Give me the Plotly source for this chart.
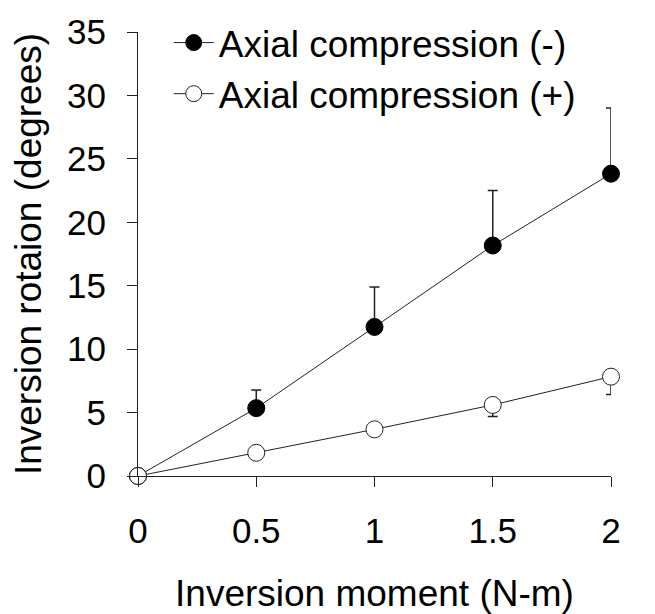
import plotly.graph_objects as go

x_vals = [0, 0.5, 1, 1.5, 2]
neg_mean = [0, 5.35, 11.75, 18.17, 23.83]
neg_err_up = [0, 1.43, 3.15, 4.33, 5.17]
pos_mean = [0, 1.83, 3.68, 5.6, 7.83]
pos_err_down = [0, 0, 0, 0.9, 1.4]
zeros = [0, 0, 0, 0, 0]

x_ticks = [0, 0.5, 1, 1.5, 2]
x_ticktext = ["0", "0.5", "1", "1.5", "2"]
y_ticks = [0, 5, 10, 15, 20, 25, 30, 35]

FONT = "Liberation Sans, Arial, sans-serif"
LC = "#222222"

fig = go.Figure()
fig.add_trace(go.Scatter(
    x=x_vals, y=neg_mean, mode="lines+markers", name="Axial compression (-)",
    line=dict(color=LC, width=1),
    marker=dict(symbol="circle", size=17, color="black", line=dict(color="black", width=1)),
    error_y=dict(type="data", symmetric=False, array=neg_err_up, arrayminus=zeros,
                 color=LC, thickness=1.5, width=5),
    cliponaxis=False,
))
fig.add_trace(go.Scatter(
    x=x_vals, y=pos_mean, mode="lines+markers", name="Axial compression (+)",
    line=dict(color=LC, width=1),
    marker=dict(symbol="circle", size=17, color="white", line=dict(color=LC, width=1)),
    error_y=dict(type="data", symmetric=False, array=zeros, arrayminus=pos_err_down,
                 color=LC, thickness=1.5, width=5),
    cliponaxis=False,
))

fig.update_layout(
    width=655, height=614,
    margin=dict(l=138, r=44, t=29, b=138),
    paper_bgcolor="white", plot_bgcolor="white",
    font=dict(family=FONT, color="black", size=35),
    showlegend=True,
    legend=dict(x=0.065, y=1.045, xanchor="left", yanchor="top",
                font=dict(size=37, family=FONT), bgcolor="rgba(0,0,0,0)",
                itemwidth=40),
    xaxis=dict(range=[0, 2], tickvals=x_ticks, ticktext=x_ticktext,
               showline=True, linecolor=LC, linewidth=1.2, ticks="outside",
               ticklen=10, tickcolor=LC, tickwidth=1.2, showgrid=False, zeroline=False,
               ticklabelstandoff=14, automargin=False,
               title=dict(text="Inversion moment (N-m)", font=dict(size=37), standoff=34)),
    yaxis=dict(range=[0, 35], tickvals=y_ticks,
               showline=True, linecolor=LC, linewidth=1.2, ticks="outside",
               ticklen=10, tickcolor=LC, tickwidth=1.2, showgrid=False, zeroline=False,
               ticklabelstandoff=14, automargin=False,
               title=dict(text="Inversion rotaion (degrees)", font=dict(size=37), standoff=14)),
)

fig.write_html("out.html")
